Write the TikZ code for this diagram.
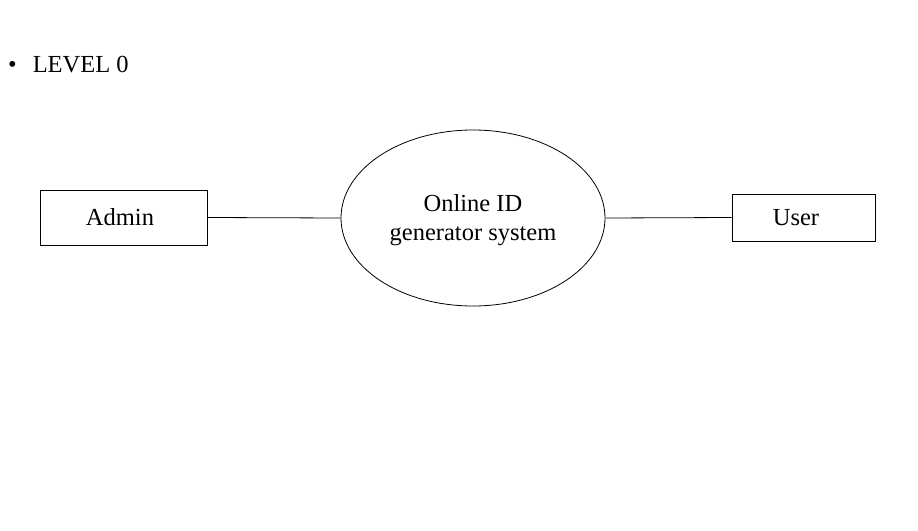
\documentclass[tikz,border=0pt]{standalone}
\usepackage{fontspec}
\setmainfont{Liberation Serif}
\usetikzlibrary{shapes.geometric}
\begin{document}
\begin{tikzpicture}[x=1pt,y=-1pt,
  ent/.style={draw,line width=0.8pt,inner sep=0pt,font=\fontsize{24.5}{28}\selectfont},
  proc/.style={draw,ellipse,line width=0.8pt,inner sep=0pt,minimum width=264pt,minimum height=176pt},
  lbl/.style={align=center,inner sep=0pt,font=\fontsize{24.5}{29}\selectfont},
  link/.style={line width=0.8pt}]
\useasboundingbox (0,0) rectangle (918,530);
\node[anchor=base west,font=\fontsize{24.5}{28}\selectfont,inner sep=0pt] (title) at (8,72) {•\hspace{16pt}LEVEL 0};
\node[ent,minimum width=167pt,minimum height=55pt] (admin) at (123.5,217.5) {Admin\kern7pt\null};
\node[proc] (sys) at (473,218) {};
\node[lbl] (systext) at (473,220) {Online ID\\generator system};
\node[ent,minimum width=143pt,minimum height=47pt] (user) at (803.5,217.5) {User\kern15pt\null};
\draw[link] (admin.east) -- (sys.west);
\draw[link] (sys.east) -- (user.west);
\end{tikzpicture}
\end{document}
